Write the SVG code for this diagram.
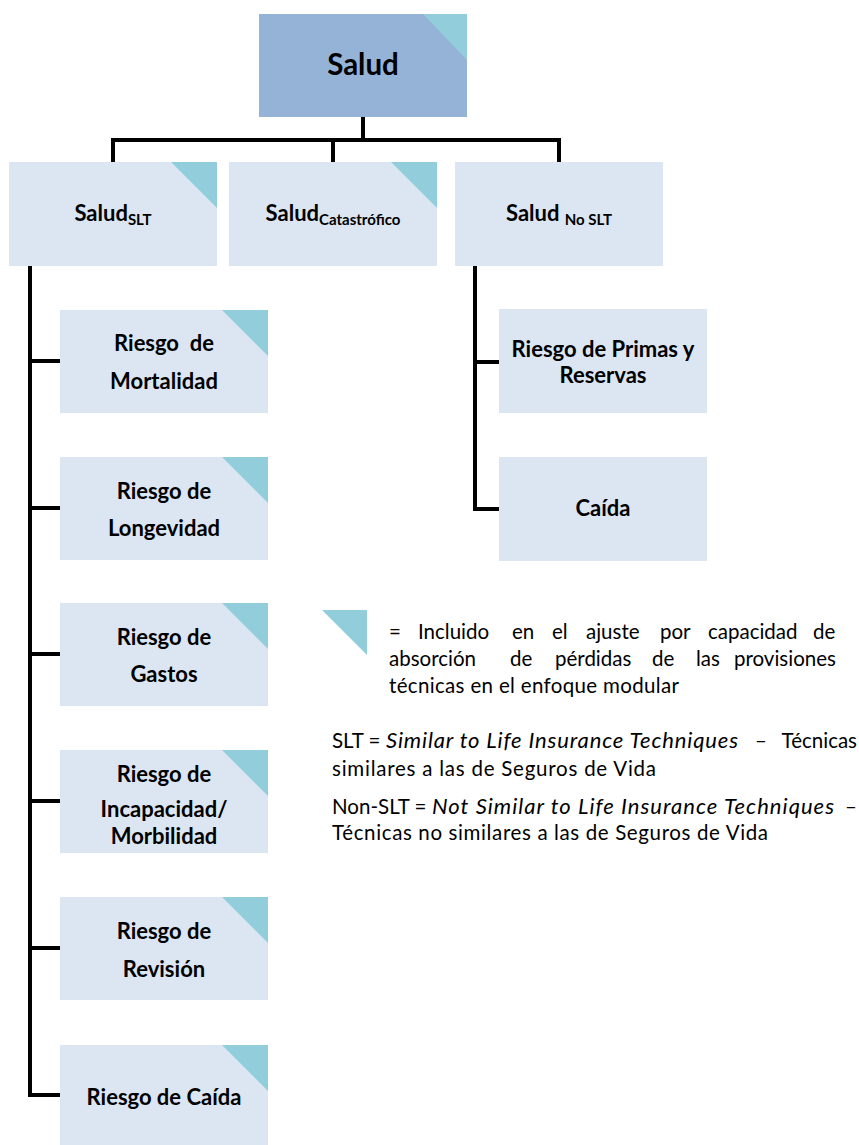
<svg xmlns="http://www.w3.org/2000/svg" width="859" height="1145" viewBox="0 0 859 1145">
<style>
.top{fill:#95B3D7}
.box{fill:#DCE6F2}
.tri{fill:#92CDDC}
.lbl{font-family:Lato,"Liberation Sans",sans-serif;font-weight:bold;font-size:22px;fill:#000;text-anchor:middle}
.sub{font-size:15px}
.lg{font-family:Lato,"Liberation Sans",sans-serif;font-size:20.5px;fill:#000}
.it{font-style:italic;font-size:22px}
.con{fill:none;stroke:#000;stroke-width:4;stroke-linejoin:miter}
</style>
<rect width="859" height="1145" fill="#fff"/>
<g id="connectors">
<path class="con" d="M363,117 V140 M113,162 V140 H559 V162 M333,140 V162"/>
<path class="con" d="M30,266 V1095 H60 M30,361 H60 M30,508 H60 M30,654 H60 M30,801 H60 M30,948 H60"/>
<path class="con" d="M475,266 V509 H499 M475,362 H499"/>
</g>
<g id="salud">
<rect class="top" x="259" y="14" width="208" height="103"/>
<polygon class="tri" points="423,14 467,14 467,60"/>
<text class="lbl" x="363" y="75" style="font-size:29.5px">Salud</text>
</g>
<g id="salud-slt">
<rect class="box" x="9" y="162" width="208" height="104"/>
<polygon class="tri" points="171,162 217,162 217,208"/>
<text class="lbl" x="113" y="221">Salud<tspan class="sub" dy="4">SLT</tspan></text>
</g>
<g id="salud-cat">
<rect class="box" x="229" y="162" width="208" height="104"/>
<polygon class="tri" points="391,162 437,162 437,208"/>
<text class="lbl" x="333" y="221">Salud<tspan class="sub" dy="4">Catastrófico</tspan></text>
</g>
<g id="salud-noslt">
<rect class="box" x="455" y="162" width="208" height="104"/>
<text class="lbl" x="559" y="221">Salud <tspan class="sub" dy="4">No SLT</tspan></text>
</g>
<g id="mortalidad">
<rect class="box" x="60" y="310" width="208" height="103"/>
<polygon class="tri" points="222,310 268,310 268,356"/>
<text class="lbl" x="164" y="351" xml:space="preserve">Riesgo  de</text>
<text class="lbl" x="164" y="389">Mortalidad</text>
</g>
<g id="longevidad">
<rect class="box" x="60" y="457" width="208" height="103"/>
<polygon class="tri" points="222,457 268,457 268,503"/>
<text class="lbl" x="164" y="499">Riesgo de</text>
<text class="lbl" x="164" y="536">Longevidad</text>
</g>
<g id="gastos">
<rect class="box" x="60" y="603" width="208" height="103"/>
<polygon class="tri" points="222,603 268,603 268,649"/>
<text class="lbl" x="164" y="645">Riesgo de</text>
<text class="lbl" x="164" y="682">Gastos</text>
</g>
<g id="incapacidad">
<rect class="box" x="60" y="750" width="208" height="103"/>
<polygon class="tri" points="222,750 268,750 268,796"/>
<text class="lbl" x="164" y="782">Riesgo de</text>
<text class="lbl" x="164" y="817">Incapacidad/</text>
<text class="lbl" x="164" y="844">Morbilidad</text>
</g>
<g id="revision">
<rect class="box" x="60" y="897" width="208" height="103"/>
<polygon class="tri" points="222,897 268,897 268,943"/>
<text class="lbl" x="164" y="939">Riesgo de</text>
<text class="lbl" x="164" y="977">Revisión</text>
</g>
<g id="caida-slt">
<rect class="box" x="60" y="1045" width="208" height="100"/>
<polygon class="tri" points="222,1045 268,1045 268,1091"/>
<text class="lbl" x="164" y="1105">Riesgo de Caída</text>
</g>
<g id="primas">
<rect class="box" x="499" y="309" width="208" height="104"/>
<text class="lbl" x="603" y="357">Riesgo de Primas y</text>
<text class="lbl" x="603" y="383">Reservas</text>
</g>
<g id="caida-noslt">
<rect class="box" x="499" y="457" width="208" height="104"/>
<text class="lbl" x="603" y="516">Caída</text>
</g>
<g id="legend">
<polygon class="tri" points="322,610 367,610 367,655"/>
<text class="lg" y="639"><tspan x="389">=</tspan><tspan x="418">Incluido</tspan><tspan x="512">en</tspan><tspan x="552">el</tspan><tspan x="586">ajuste</tspan><tspan x="660">por</tspan><tspan x="708">capacidad</tspan><tspan x="813">de</tspan></text>
<text class="lg" y="666"><tspan x="389">absorción</tspan><tspan x="510">de</tspan><tspan x="555">pérdidas</tspan><tspan x="652">de</tspan><tspan x="696">las</tspan><tspan x="734">provisiones</tspan></text>
<text class="lg" x="389" y="693" textLength="290" lengthAdjust="spacing">técnicas en el enfoque modular</text>
<text class="lg" x="332" y="748">SLT =</text>
<text class="lg it" x="386" y="748" textLength="352" lengthAdjust="spacing">Similar to Life Insurance Techniques</text>
<text class="lg" x="755" y="748">–</text>
<text class="lg" x="857" y="748" text-anchor="end">Técnicas</text>
<text class="lg" x="332" y="776" textLength="324" lengthAdjust="spacing">similares a las de Seguros de Vida</text>
<text class="lg" x="332" y="814">Non-SLT =</text>
<text class="lg it" x="432" y="814" textLength="402" lengthAdjust="spacing">Not Similar to Life Insurance Techniques</text>
<text class="lg" x="845" y="814">–</text>
<text class="lg" x="332" y="840" textLength="436" lengthAdjust="spacing">Técnicas no similares a las de Seguros de Vida</text>
</g>
</svg>
